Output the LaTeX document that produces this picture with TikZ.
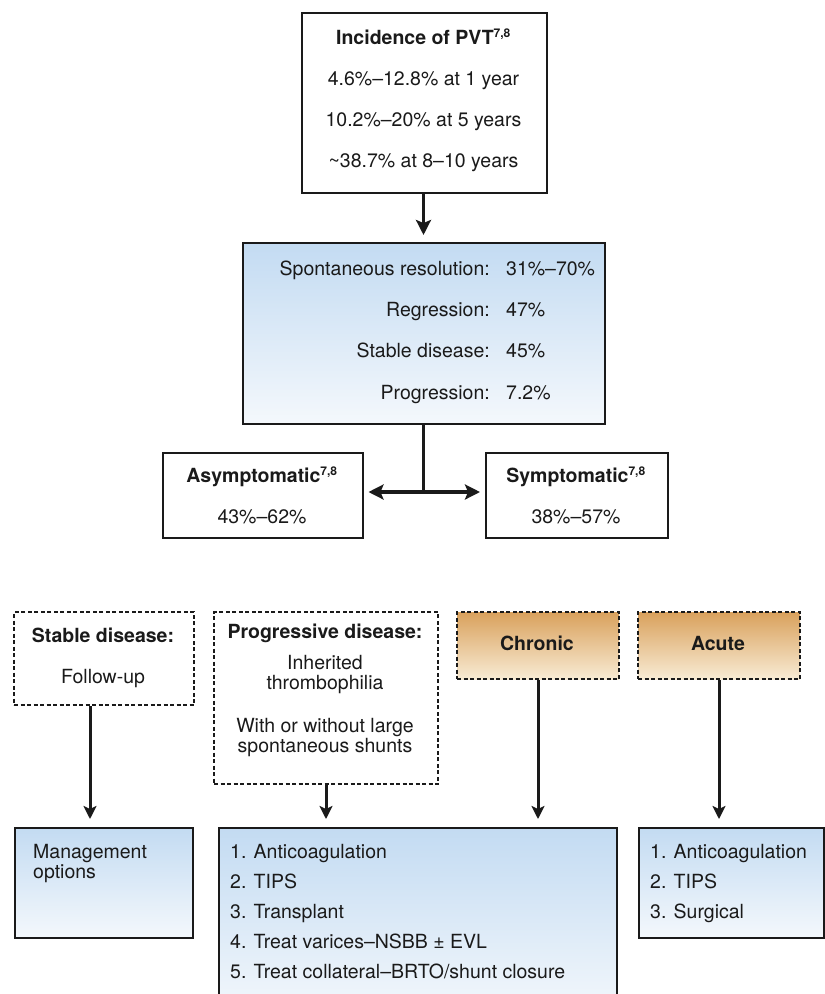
\documentclass[tikz,border=0pt]{standalone}
\usepackage{fontspec}
\setmainfont{TeX Gyre Heros}
\usetikzlibrary{arrows.meta,calc}
\definecolor{bluetop}{HTML}{C3DBF2}
\definecolor{bluebot}{HTML}{F4F8FC}
\definecolor{orntop}{HTML}{D9A15C}
\definecolor{ornbot}{HTML}{F8EBD4}
\definecolor{ink}{HTML}{1A1A1A}
\newcommand{\refsup}{\textsuperscript{\fontsize{12}{12}\selectfont 7,8}}
\begin{document}
\begin{tikzpicture}[x=1pt,y=-1pt,
  every node/.style={font=\fontsize{19.5}{21}\selectfont, text=ink},
  plainbox/.style={draw=ink, line width=1.5pt, fill=white, inner sep=0pt, anchor=north west},
  bluebox/.style={draw=ink, line width=1.5pt, top color=bluetop, bottom color=bluebot, inner sep=0pt, anchor=north west},
  dashbox/.style={draw=ink, line width=2pt, dash pattern=on 4pt off 2.5pt, fill=white, inner sep=0pt, anchor=north west},
  ornbox/.style={draw=ink, line width=2pt, dash pattern=on 4pt off 2.5pt, top color=orntop, bottom color=ornbot, inner sep=0pt, anchor=north west},
  txt/.style={inner sep=0pt, anchor=mid, yshift=-3pt},
  ltxt/.style={inner sep=0pt, anchor=mid west, yshift=-2pt},
  bigarr/.style={line width=3.8pt, draw=ink, -{Stealth[length=15pt,width=15pt,inset=3pt]}},
  smallarr/.style={line width=3pt, draw=ink, -{Stealth[length=13pt,width=13pt,inset=3pt]}},
  line/.style={line width=3.8pt, draw=ink}
]
\useasboundingbox (0,0) rectangle (825,994);

% top box
\node[plainbox, minimum width=245pt, minimum height=180pt] (inc) at (301,12) {};
\node[txt] (incT) at (423.5,39) {\textbf{Incidence of PVT\refsup}};
\node[txt] (inc1) at (423.5,80) {4.6\%–12.8\% at 1 year};
\node[txt] (inc2) at (423.5,121) {10.2\%–20\% at 5 years};
\node[txt] (inc3) at (423.5,162) {\textasciitilde 38.7\% at 8–10 years};

% outcome box
\node[bluebox, minimum width=362pt, minimum height=181pt] (out) at (242,242) {};
\node[txt, anchor=mid east] (o1l) at (490,270) {Spontaneous resolution:};
\node[txt, anchor=mid west] (o1r) at (506,270) {31\%–70\%};
\node[txt, anchor=mid east] (o2l) at (490,311) {Regression:};
\node[txt, anchor=mid west] (o2r) at (506,311) {47\%};
\node[txt, anchor=mid east] (o3l) at (490,352) {Stable disease:};
\node[txt, anchor=mid west] (o3r) at (506,352) {45\%};
\node[txt, anchor=mid east] (o4l) at (490,394) {Progression:};
\node[txt, anchor=mid west] (o4r) at (506,394) {7.2\%};

% asym / sym
\node[plainbox, minimum width=200pt, minimum height=85pt] (asym) at (162,452) {};
\node[txt] (asymT) at (262,477) {\textbf{Asymptomatic\refsup}};
\node[txt] (asymV) at (262,518) {43\%–62\%};
\node[plainbox, minimum width=182pt, minimum height=85pt] (sym) at (485,452) {};
\node[txt] (symT) at (576,477) {\textbf{Symptomatic\refsup}};
\node[txt] (symV) at (576,518) {38\%–57\%};

% connectors upper part
\draw[bigarr, shorten >=7pt] (inc.south -| 423.5,0) -- (out.north -| 423.5,0);
\coordinate (junc) at (423.5,492);
\draw[line] (out.south -| junc) -- (junc);
\draw[bigarr, shorten >=5pt] ([xshift=1.9pt]junc) -- (asym.east |- junc);
\draw[bigarr, shorten >=5pt] ([xshift=-1.9pt]junc) -- (sym.west |- junc);

% second row
\node[dashbox, minimum width=180pt, minimum height=93pt] (stab) at (13,611) {};
\node[txt] (stabT) at (103,637) {\textbf{Stable disease:}};
\node[txt] (stabV) at (103,678) {Follow-up};
\node[dashbox, minimum width=224pt, minimum height=172pt] (prog) at (213,611) {};
\node[txt] (progT) at (325,633) {\textbf{Progressive disease:}};
\node[txt, align=center, font=\fontsize{19.5}{20.5}\selectfont] (prog1) at (325,684) {Inherited\\thrombophilia};
\node[txt, align=center, font=\fontsize{19.5}{20.5}\selectfont] (prog2) at (325,747) {With or without large\\spontaneous shunts};
\node[ornbox, minimum width=162pt, minimum height=67pt] (chr) at (456,611) {};
\node[txt] (chrT) at (537,645) {\textbf{Chronic}};
\node[ornbox, minimum width=162pt, minimum height=67pt] (acu) at (637,611) {};
\node[txt] (acuT) at (718,645) {\textbf{Acute}};

% bottom row
\node[bluebox, minimum width=178pt, minimum height=110pt] (mgmt) at (14,827) {};
\node[ltxt, align=left, anchor=north west, font=\fontsize{19.5}{20.5}\selectfont] (mgmtT) at (33,842) {Management\\options};
\node[bluebox, minimum width=398pt, minimum height=190pt] (chron) at (218,827) {};
\node[ltxt] (c1) at (230,854) {1. Anticoagulation};
\node[ltxt] (c2) at (230,884) {2. TIPS};
\node[ltxt] (c3) at (230,914) {3. Transplant};
\node[ltxt] (c4) at (230,944) {4. Treat varices–NSBB ± EVL};
\node[ltxt] (c5) at (230,974) {5. Treat collateral–BRTO/shunt closure};
\node[bluebox, minimum width=185pt, minimum height=110pt] (acut) at (638,827) {};
\node[ltxt] (a1) at (650,854) {1. Anticoagulation};
\node[ltxt] (a2) at (650,884) {2. TIPS};
\node[ltxt] (a3) at (650,914) {3. Surgical};

% lower arrows
\coordinate (ax1) at (90,0);
\draw[smallarr, shorten >=8pt] (stab.south -| ax1) -- (mgmt.north -| ax1);
\draw[smallarr, shorten >=8pt] (prog.south) -- (chron.north -| prog.south);
\draw[smallarr, shorten >=8pt] (chr.south) -- (chron.north -| chr.south);
\draw[smallarr, shorten >=8pt] (acu.south) -- (acut.north -| acu.south);
\end{tikzpicture}
\end{document}
